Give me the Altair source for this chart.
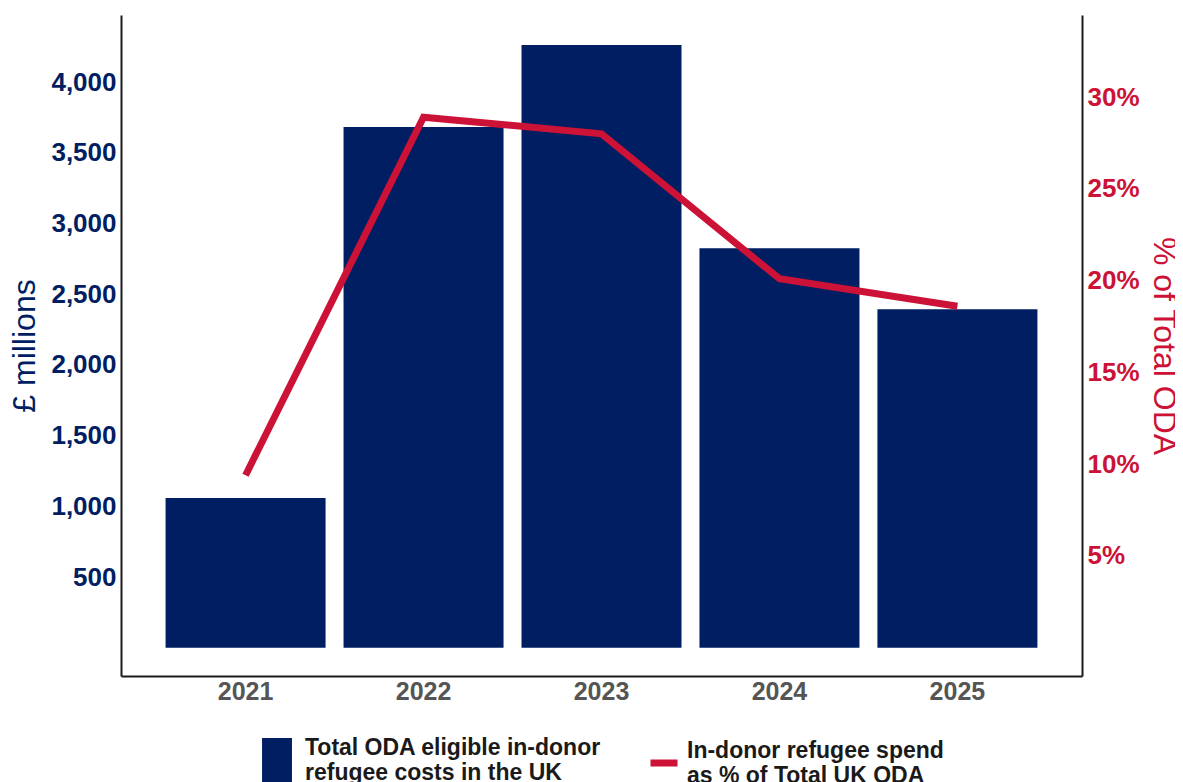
import altair as alt
import pandas as pd

years = ["2021", "2022", "2023", "2024", "2025"]
refugee_costs = [1058, 3682, 4261, 2824, 2393]          # £ millions
pct_of_total_oda = [0.094, 0.289, 0.280, 0.201, 0.186]  # share of total UK ODA

bar_series_name = "Total ODA eligible in-donor refugee costs in the UK"
line_series_name = "In-donor refugee spend as % of Total UK ODA"

left_ticks = [500, 1000, 1500, 2000, 2500, 3000, 3500, 4000]
right_ticks = [0.05, 0.10, 0.15, 0.20, 0.25, 0.30]

NAVY = "#011e62"
RED = "#cc1236"
FONT = "Liberation Sans"

df = pd.DataFrame({
    "year": years,
    "cost": refugee_costs,
    "pct": pct_of_total_oda,
    "bar_series": [bar_series_name] * len(years),
    "line_series": [line_series_name] * len(years),
})

x_enc = alt.X(
    "year:N",
    sort=years,
    scale=alt.Scale(paddingInner=0.1, paddingOuter=0.25),
    axis=alt.Axis(
        orient="bottom", title=None, labelAngle=0, ticks=False, grid=False,
        labelFont=FONT, labelFontSize=25, labelFontWeight="bold", labelColor="#555555",
        labelPadding=3, domainColor="#1a1a1a", domainWidth=2,
    ),
)

bars = alt.Chart(df).mark_bar(size=160).encode(
    x=x_enc,
    y=alt.Y(
        "cost:Q",
        scale=alt.Scale(domain=[-200, 4474], nice=False, zero=False),
        axis=alt.Axis(
            orient="left", values=left_ticks, format=",.0f", ticks=False, grid=False,
            labelFont=FONT, labelFontSize=26, labelFontWeight="bold", labelColor=NAVY,
            labelPadding=5, domainColor="#1a1a1a", domainWidth=2,
            title="£ millions", titleFont=FONT, titleFontSize=32, titleFontWeight="normal",
            titleColor=NAVY, titlePadding=9,
        ),
    ),
    fill=alt.Fill(
        "bar_series:N",
        scale=alt.Scale(domain=[bar_series_name], range=[NAVY]),
        legend=alt.Legend(
            orient="none", legendX=134, legendY=723, title=None,
            symbolType="M-0.68,-1H0.68V1H-0.68Z", symbolSize=1936, symbolStrokeWidth=0,
            labelFont=FONT, labelFontSize=23, labelFontWeight="bold", labelColor="#1a1a1a",
            labelOffset=6, labelLimit=500, labelBaseline="bottom",
            labelExpr="['Total ODA eligible in-donor', 'refugee costs in the UK']",
        ),
    ),
)

line = alt.Chart(df).mark_line(strokeWidth=7, strokeCap="butt", strokeJoin="miter").encode(
    x=alt.X("year:N", sort=years),
    y=alt.Y(
        "pct:Q",
        scale=alt.Scale(domain=[-0.0154, 0.3447], nice=False, zero=False),
        axis=alt.Axis(
            orient="right", values=right_ticks, format=".0%", ticks=False, grid=False,
            labelFont=FONT, labelFontSize=26, labelFontWeight="bold", labelColor=RED,
            labelPadding=5, domainColor="#1a1a1a", domainWidth=2,
            title="% of Total ODA", titleFont=FONT, titleFontSize=32, titleFontWeight="normal",
            titleColor=RED, titlePadding=7,
        ),
    ),
    stroke=alt.Stroke(
        "line_series:N",
        scale=alt.Scale(domain=[line_series_name], range=[RED]),
        legend=alt.Legend(
            orient="none", legendX=526, legendY=731, title=None,
            symbolType="stroke", symbolSize=729, symbolStrokeWidth=7,
            labelFont=FONT, labelFontSize=23, labelFontWeight="bold", labelColor="#1a1a1a",
            labelOffset=6, labelLimit=500, labelBaseline="bottom",
            labelExpr="['In-donor refugee spend', 'as % of Total UK ODA']",
        ),
    ),
)

chart = (
    alt.layer(bars, line)
    .resolve_scale(y="independent")
    .properties(
        width=961,
        height=661,
        autosize=alt.AutoSizeParams(type="none"),
        padding={"left": 113, "top": 7, "right": 93, "bottom": 106},
        background="white",
    )
    .configure_view(stroke=None)
)

chart.save("out.html", embed_options={"renderer": "svg", "actions": False})
